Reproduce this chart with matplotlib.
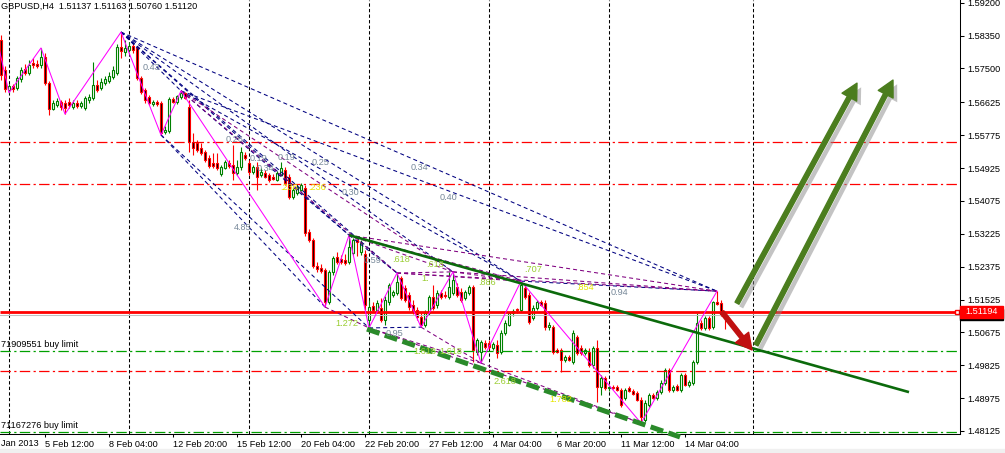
import matplotlib
matplotlib.use("Agg")
import matplotlib.pyplot as plt
import matplotlib.patheffects as pe
from matplotlib.patches import Rectangle

plt.rcParams['font.family'] = ['Liberation Sans', 'DejaVu Sans']
plt.rcParams['lines.scale_dashes'] = False

# GBPUSD H4 candles, bar 0 = 1 Feb 2013 16:00
opens = [1.5824, 1.5746, 1.5694, 1.5705, 1.5699, 1.5723, 1.5749, 1.5738, 1.5764, 1.5761,
         1.5759, 1.5780, 1.5712, 1.5645, 1.5656, 1.5663, 1.5661, 1.5663, 1.5650, 1.5661,
         1.5653, 1.5648, 1.5668, 1.5674, 1.5707, 1.5699, 1.5712, 1.5718, 1.5728, 1.5738,
         1.5806, 1.5793, 1.5798, 1.5808, 1.5803, 1.5725, 1.5694, 1.5676, 1.5658, 1.5663,
         1.5661, 1.5586, 1.5588, 1.5671, 1.5663, 1.5676, 1.5687, 1.5650, 1.5560, 1.5557,
         1.5544, 1.5534, 1.5518, 1.5505, 1.5505, 1.5477, 1.5493, 1.5505, 1.5500, 1.5480,
         1.5495, 1.5526, 1.5505, 1.5482, 1.5495, 1.5475, 1.5480, 1.5475, 1.5469, 1.5462,
         1.5475, 1.5487, 1.5469, 1.5418, 1.5428, 1.5436, 1.5441, 1.5327, 1.5306, 1.5239,
         1.5234, 1.5229, 1.5146, 1.5224, 1.5262, 1.5257, 1.5255, 1.5249, 1.5273, 1.5306,
         1.5275, 1.5270, 1.5100, 1.5136, 1.5125, 1.5130, 1.5100, 1.5146, 1.5164, 1.5169,
         1.5208, 1.5182, 1.5164, 1.5138, 1.5125, 1.5107, 1.5087, 1.5118, 1.5159, 1.5138,
         1.5169, 1.5164, 1.5159, 1.5169, 1.5185, 1.5172, 1.5156, 1.5169, 1.5185, 1.5017,
         1.5017, 1.5040, 1.5040, 1.5027, 1.5035, 1.5017, 1.5066, 1.5087, 1.5118, 1.5127,
         1.5125, 1.5182, 1.5164, 1.5104, 1.5130, 1.5146, 1.5143, 1.5081, 1.5081, 1.5022,
         1.5022, 1.4996, 1.5004, 1.4991, 1.5056, 1.5027, 1.5014, 1.5017, 1.4983, 1.5027,
         1.4926, 1.4950, 1.4924, 1.4926, 1.4926, 1.4918, 1.4898, 1.4924, 1.4916, 1.4911,
         1.4893, 1.4841, 1.4880, 1.4906, 1.4898, 1.4913, 1.4937, 1.4970, 1.4918, 1.4929,
         1.4918, 1.4957, 1.4931, 1.4937, 1.4991, 1.5092, 1.5079, 1.5105, 1.5081, 1.5146,
         1.5143, 1.51137]
highs = [1.5836, 1.5756, 1.5710, 1.5710, 1.5730, 1.5754, 1.5761, 1.5772, 1.5777, 1.5772,
         1.5803, 1.5790, 1.5718, 1.5668, 1.5673, 1.5668, 1.5668, 1.5673, 1.5668, 1.5668,
         1.5666, 1.5679, 1.5684, 1.5767, 1.5720, 1.5725, 1.5730, 1.5741, 1.5756, 1.5813,
         1.5844, 1.5824, 1.5818, 1.5816, 1.5808, 1.5730, 1.5699, 1.5681, 1.5668, 1.5668,
         1.5666, 1.5601, 1.5676, 1.5676, 1.5681, 1.5692, 1.5689, 1.5668, 1.5583, 1.5565,
         1.5557, 1.5539, 1.5526, 1.5531, 1.5531, 1.5500, 1.5513, 1.5513, 1.5552, 1.5513,
         1.5547, 1.5534, 1.5513, 1.5500, 1.5508, 1.5493, 1.5487, 1.5480, 1.5477, 1.5485,
         1.5508, 1.5495, 1.5477, 1.5441, 1.5451, 1.5454, 1.5449, 1.5335, 1.5311, 1.5249,
         1.5244, 1.5234, 1.5229, 1.5265, 1.5275, 1.5268, 1.5270, 1.5319, 1.5311, 1.5309,
         1.5306, 1.5281, 1.5151, 1.5146, 1.5151, 1.5156, 1.5162, 1.5195, 1.5177, 1.5221,
         1.5213, 1.5190, 1.5172, 1.5151, 1.5133, 1.5118, 1.5125, 1.5164, 1.5190, 1.5177,
         1.5177, 1.5175, 1.5224, 1.5224, 1.5195, 1.5182, 1.5177, 1.5190, 1.5190, 1.5053,
         1.5048, 1.5048, 1.5048, 1.5043, 1.5048, 1.5074, 1.5100, 1.5120, 1.5128, 1.5130,
         1.5200, 1.5193, 1.5172, 1.5138, 1.5151, 1.5151, 1.5151, 1.5094, 1.5087, 1.5027,
         1.5027, 1.5009, 1.5009, 1.5074, 1.5061, 1.5035, 1.5027, 1.5027, 1.5032, 1.5048,
         1.4957, 1.4955, 1.4929, 1.4931, 1.4931, 1.4924, 1.4924, 1.4929, 1.4921, 1.4916,
         1.4900, 1.4893, 1.4911, 1.4911, 1.4918, 1.4944, 1.4975, 1.4975, 1.4931, 1.4934,
         1.4962, 1.4962, 1.4944, 1.4996, 1.5118, 1.5100, 1.5110, 1.5110, 1.5149, 1.5174,
         1.5151, 1.51163]
lows = [1.5720, 1.5689, 1.5687, 1.5689, 1.5694, 1.5715, 1.5733, 1.5733, 1.5751, 1.5751,
        1.5751, 1.5707, 1.5630, 1.5643, 1.5650, 1.5643, 1.5632, 1.5648, 1.5645, 1.5648,
        1.5648, 1.5643, 1.5661, 1.5668, 1.5689, 1.5694, 1.5707, 1.5712, 1.5723, 1.5733,
        1.5777, 1.5782, 1.5793, 1.5790, 1.5720, 1.5684, 1.5661, 1.5656, 1.5653, 1.5653,
        1.5578, 1.5580, 1.5583, 1.5661, 1.5658, 1.5671, 1.5671, 1.5534, 1.5526, 1.5534,
        1.5526, 1.5508, 1.5493, 1.5493, 1.5487, 1.5472, 1.5490, 1.5493, 1.5462, 1.5475,
        1.5487, 1.5513, 1.5475, 1.5477, 1.5436, 1.5469, 1.5467, 1.5456, 1.5462, 1.5459,
        1.5472, 1.5449, 1.5412, 1.5412, 1.5423, 1.5433, 1.5317, 1.5301, 1.5234, 1.5224,
        1.5221, 1.5133, 1.5141, 1.5216, 1.5244, 1.5244, 1.5242, 1.5244, 1.5268, 1.5265,
        1.5268, 1.5125, 1.5079, 1.5120, 1.5120, 1.5094, 1.5087, 1.5138, 1.5159, 1.5164,
        1.5151, 1.5146, 1.5125, 1.5115, 1.5100, 1.5081, 1.5081, 1.5112, 1.5125, 1.5130,
        1.5154, 1.5156, 1.5154, 1.5164, 1.5159, 1.5146, 1.5151, 1.5164, 1.4991, 1.5009,
        1.4988, 1.5025, 1.5025, 1.5022, 1.5001, 1.5012, 1.5061, 1.5084, 1.5110, 1.5118,
        1.5120, 1.5154, 1.5089, 1.5100, 1.5125, 1.5136, 1.5074, 1.5074, 1.5012, 1.5014,
        1.4965, 1.4991, 1.4993, 1.4986, 1.5009, 1.5009, 1.5009, 1.4978, 1.4975, 1.4887,
        1.4906, 1.4918, 1.4916, 1.4921, 1.4916, 1.4875, 1.4893, 1.4913, 1.4906, 1.4890,
        1.4833, 1.4836, 1.4875, 1.4895, 1.4893, 1.4908, 1.4931, 1.4913, 1.4913, 1.4916,
        1.4913, 1.4929, 1.4926, 1.4931, 1.4986, 1.5074, 1.5074, 1.5074, 1.5076, 1.5138,
        1.5110, 1.5076]
closes = [1.5733, 1.5697, 1.5705, 1.5697, 1.5725, 1.5746, 1.5738, 1.5759, 1.5759, 1.5756,
          1.5780, 1.5712, 1.5645, 1.5661, 1.5666, 1.5650, 1.5648, 1.5656, 1.5661, 1.5653,
          1.5661, 1.5674, 1.5676, 1.5707, 1.5694, 1.5715, 1.5723, 1.5730, 1.5746, 1.5806,
          1.5795, 1.5803, 1.5808, 1.5798, 1.5725, 1.5689, 1.5668, 1.5661, 1.5663, 1.5658,
          1.5583, 1.5591, 1.5671, 1.5663, 1.5679, 1.5687, 1.5674, 1.5560, 1.5544, 1.5539,
          1.5531, 1.5513, 1.5498, 1.5498, 1.5493, 1.5495, 1.5508, 1.5498, 1.5480, 1.5495,
          1.5534, 1.5518, 1.5482, 1.5495, 1.5469, 1.5482, 1.5469, 1.5462, 1.5464, 1.5480,
          1.5493, 1.5454, 1.5417, 1.5436, 1.5443, 1.5449, 1.5324, 1.5306, 1.5239, 1.5231,
          1.5226, 1.5146, 1.5224, 1.5260, 1.5249, 1.5249, 1.5247, 1.5288, 1.5306, 1.5301,
          1.5299, 1.5138, 1.5133, 1.5125, 1.5143, 1.5100, 1.5151, 1.5190, 1.5172, 1.5198,
          1.5156, 1.5151, 1.5133, 1.5120, 1.5107, 1.5087, 1.5118, 1.5159, 1.5130, 1.5169,
          1.5159, 1.5162, 1.5185, 1.5203, 1.5164, 1.5151, 1.5172, 1.5185, 1.5022, 1.5048,
          1.5043, 1.5030, 1.5030, 1.5037, 1.5014, 1.5066, 1.5092, 1.5118, 1.5123, 1.5125,
          1.5190, 1.5159, 1.5094, 1.5130, 1.5146, 1.5138, 1.5081, 1.5087, 1.5017, 1.5017,
          1.4996, 1.5004, 1.4996, 1.5066, 1.5014, 1.5014, 1.5022, 1.4983, 1.5027, 1.4926,
          1.4949, 1.4924, 1.4926, 1.4924, 1.4918, 1.4880, 1.4918, 1.4916, 1.4908, 1.4893,
          1.4849, 1.4885, 1.4906, 1.4898, 1.4913, 1.4937, 1.4970, 1.4918, 1.4926, 1.4918,
          1.4957, 1.4931, 1.4939, 1.4991, 1.5092, 1.5079, 1.5105, 1.5079, 1.5146, 1.5141,
          1.5112, 1.5112]

header = "GBPUSD,H4  1.51137 1.51163 1.50760 1.51120"

# time axis (bar index of each label)
tick_bars = [11, 27, 43, 59, 75, 91, 107, 123, 139, 155, 171]
tick_labels = ["5 Feb 12:00", "8 Feb 04:00", "12 Feb 20:00", "15 Feb 12:00",
               "20 Feb 04:00", "22 Feb 20:00", "27 Feb 12:00", "4 Mar 04:00",
               "6 Mar 20:00", "11 Mar 12:00", "14 Mar 04:00"]
first_label = "Jan 2013"

price_ticks = [1.59200, 1.58350, 1.57500, 1.56625, 1.55775, 1.54925, 1.54075,
               1.53225, 1.52375, 1.51525, 1.50675, 1.49825, 1.48975, 1.48125]

# period separators (bar index)
separators = [2, 32, 62, 92, 122, 152, 188]

# zigzag swings
zz_high_bars = [10, 30, 45, 87, 99, 113, 130, 179]
zz_low_bars = [2, 16, 40, 81, 92, 105, 120, 160]
zz_start = (-2, 1.5871)

# ratio lines between swings: (bar a, bar b, label)
navy_pairs = [(30, 45, "0.43"), (30, 87, "0.26"), (30, 99, "0.19"), (30, 113, "0.19"),
              (30, 130, "0.25"), (30, 179, "0.34"), (45, 87, "0.34"), (45, 130, "0.30"),
              (45, 179, "0.40"), (87, 99, "0.59"), (130, 179, "0.94"),
              (40, 81, "4.85"), (92, 105, "0.95"), (40, 92, "")]
purple_pairs = [(45, 99, ".236"), (45, 113, ".236"), (87, 113, ".618"), (87, 130, ".618"),
                (87, 179, ".707"), (99, 113, "1."), (113, 130, ".886"), (113, 179, ".854"),
                (99, 179, ""), (99, 130, ""),
                (81, 92, "1.272"), (92, 120, "1.618"), (105, 120, "1.618"),
                (92, 160, "2.618"), (120, 160, "1.782")]
yellow_labels = [".236", ".854", "1.782"]

# horizontal levels
red_levels = [1.5560, 1.5451, 1.4968]
green_levels = [1.5020, 1.4810]
main_level = 1.51194
bid = 1.51120
orders = [("71909551 buy limit", 1.5020), ("71167276 buy limit", 1.4810)]

# trend lines (bar, price)
trend_upper = [(87, 1.5319), (227, 1.4913)]
trend_lower = [(91.5, 1.5076), (169.75, 1.4797)]

W, H = 1005, 453
fig = plt.figure(figsize=(W / 100, H / 100), dpi=100)
ax = fig.add_axes([0, 19 / H, 960 / W, 434 / H])
ax.set_xlim(-0.25, 239.75)
ax.set_ylim(1.48047, 1.5927)

def fx(px):
    return px / W

def fy(py):
    return 1 - py / H

# separators
for b in separators:
    ax.axvline(b, color='black', lw=0.75, ls=(0, (2.4, 1.6)), zorder=1)

# candles
RED, GREEN = '#ff0000', '#008000'
n = len(closes)
idx = list(range(n))
cols = [GREEN if closes[i] >= opens[i] else RED for i in idx]
faces = ['white' if closes[i] >= opens[i] else 'black' for i in idx]
ax.vlines(idx, lows, highs, colors=cols, lw=0.8, zorder=3)
bottoms = [min(opens[i], closes[i]) for i in idx]
heights = [max(abs(closes[i] - opens[i]), 0.00002) for i in idx]
ax.bar(idx, heights, width=0.5, bottom=bottoms, color=faces, edgecolor=cols,
       linewidth=0.8, zorder=3)

# horizontal levels
dashdot = (0, (7.5, 2.4, 1.6, 2.4))
for lv in red_levels:
    ax.axhline(lv, color=RED, lw=0.9, ls=dashdot, zorder=4)
for lv in green_levels:
    ax.axhline(lv, color='#00a000', lw=0.9, ls=dashdot, zorder=4)
ax.axhline(bid, color='#c0c0c0', lw=0.75, zorder=4)
ax.plot([-0.25, 239.0], [main_level, main_level], color=RED, lw=2.0, zorder=4,
        solid_capstyle='butt')
ax.plot([239.0], [main_level], marker='s', ms=3.5, mfc='white', mec=RED, mew=1.0,
        zorder=5, clip_on=False)

# zigzag
def swing_price(b):
    return highs[b] if b in zz_high_bars else lows[b]

zz_bars = sorted(zz_high_bars + zz_low_bars)
ax.plot([zz_start[0]] + zz_bars, [zz_start[1]] + [swing_price(b) for b in zz_bars],
        color='#ff00ff', lw=0.75, zorder=6)

# ratio lines and labels
gray_labels = ["0.43", "0.26", "0.19", "0.25", "0.34", "0.30", "0.40", "0.59", "0.94",
               "4.85", "0.95"]

def ratio_label(a, b, text):
    if not text:
        return
    if text in gray_labels:
        colr = '#778899'
    elif text in yellow_labels:
        colr = '#e6e600'
    else:
        colr = '#9acd32'
    ax.annotate(text, ((a + b) / 2, (swing_price(a) + swing_price(b)) / 2),
                xytext=(0, -6), textcoords='offset pixels', ha='center', va='center',
                fontsize=6.6, color=colr, zorder=8)

for a, b, t in navy_pairs:
    ax.plot([a, b], [swing_price(a), swing_price(b)], color='#000080', lw=0.75,
            ls=(0, (2.9, 2.2)), zorder=5)
    ratio_label(a, b, t)
for a, b, t in purple_pairs:
    ax.plot([a, b], [swing_price(a), swing_price(b)], color='#800080', lw=0.75,
            ls=(0, (2.9, 2.2)), zorder=5)
    ratio_label(a, b, t)

# trend lines
ax.plot(*zip(*trend_upper), color='#0b6a0b', lw=1.9, zorder=7, solid_capstyle='butt')
ax.plot(*zip(*trend_lower), color='#2a8a2a', lw=3.6, ls=(0, (9.5, 4.0)), zorder=7,
        clip_on=False)

# arrows
def arrow(p0, p1, colr, shadow):
    an = ax.annotate('', xy=p1, xytext=p0,
                     arrowprops=dict(arrowstyle='simple,head_length=1.15,head_width=1.2,tail_width=0.32',
                                     mutation_scale=10, color=colr, shrinkA=0, shrinkB=0),
                     zorder=9)
    if shadow:
        an.arrow_patch.set_path_effects([pe.SimplePatchShadow(offset=(3, -3), shadow_rgbFace='#888888', alpha=0.5),
                                         pe.Normal()])

arrow((184, 1.5143), (214, 1.5712), '#4b7d1e', True)
arrow((188.75, 1.5035), (223, 1.5720), '#4b7d1e', True)
arrow((180.25, 1.5120), (187.75, 1.5022), '#c01010', False)

# axes styling
for s in ['left', 'top']:
    ax.spines[s].set_visible(False)
for s in ['right', 'bottom']:
    ax.spines[s].set_linewidth(0.75)
ax.yaxis.tick_right()
ax.set_yticks(price_ticks)
ax.set_yticklabels([f"{p:.5f}" for p in price_ticks])
ax.tick_params(axis='y', length=3, width=0.75, pad=2, labelsize=6.6, direction='out')
ax.set_xticks(tick_bars)
ax.set_xticklabels(tick_labels)
ax.tick_params(axis='x', length=2.5, width=0.75, pad=2, labelsize=6.6, direction='out')
for lbl in ax.get_xticklabels():
    lbl.set_ha('left')
fig.text(fx(1), fy(443), first_label, fontsize=6.6, ha='left', va='center')

# order labels
for txt, lv in orders:
    ax.annotate(txt, (-0.25, lv), xytext=(1, 6), textcoords='offset pixels',
                fontsize=6.6, ha='left', va='center', color='black', zorder=8)

# header
fig.text(fx(1), fy(6.5), header, fontsize=6.6, ha='left', va='center')

# price tags
fig.patches.append(Rectangle((fx(960), fy(320)), 43 / W, 11 / H, transform=fig.transFigure,
                             color='black', zorder=5))
fig.patches.append(Rectangle((fx(960), fy(318)), 43 / W, 12 / H, transform=fig.transFigure,
                             color=RED, zorder=6))
fig.text(fx(981.5), fy(312), f"{main_level:.5f}", fontsize=6.6, color='white',
         ha='center', va='center', zorder=7)
fig.patches.append(Rectangle((0, 0), 1, 4 / H, transform=fig.transFigure,
                             color='#f0f0f0', zorder=0))

fig.savefig('out.png', dpi=100)
